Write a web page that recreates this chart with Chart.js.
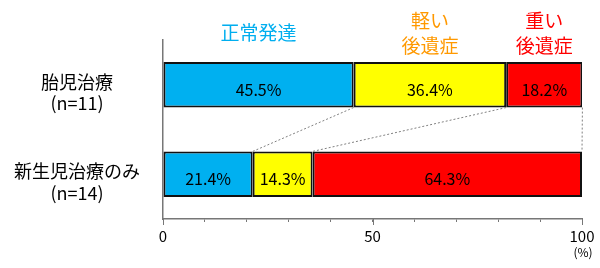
<!DOCTYPE html>
<html>
<head>
<meta charset="utf-8">
<script src="https://cdn.jsdelivr.net/npm/chart.js@4"></script>
<style>
  html, body { margin: 0; padding: 0; background: #fff; }
  #wrap { width: 600px; height: 268px; }
</style>
</head>
<body>
<div id="wrap"><canvas id="chart"></canvas></div>
<script>
const categories = [['胎児治療', '(n=11)'], ['新生児治療のみ', '(n=14)']];
const seriesNames = [['正常発達'], ['軽い', '後遺症'], ['重い', '後遺症']];
const normalDev = [45.5, 21.4];
const mildSeq = [36.4, 14.3];
const severeSeq = [18.2, 64.3];
const xTicksShown = [0, 50, 100];

const barColors = ['#00B0F0', '#FFFF00', '#FF0000'];
const nameColors = ['#00AEEF', '#FF9900', '#FF0000'];
const font = '"Noto Sans CJK JP", "Noto Sans", sans-serif';

// dotted connectors, value labels, series names and the (%) unit
const overlay = {
    id: 'overlay',
    afterDatasetsDraw(chart) {
        const ctx = chart.ctx;
        const metas = chart.data.datasets.map((d, i) => chart.getDatasetMeta(i));

        ctx.save();
        ctx.strokeStyle = '#808080';
        ctx.lineWidth = 1;
        ctx.setLineDash([2, 2]);
        metas.forEach(function(m) {
            const a = m.data[0], b = m.data[1];
            ctx.beginPath();
            ctx.moveTo(a.x, a.y + a.height / 2);
            ctx.lineTo(b.x, b.y - b.height / 2);
            ctx.stroke();
        });
        ctx.restore();

        ctx.save();
        ctx.fillStyle = '#000';
        ctx.font = '16px ' + font;
        ctx.textAlign = 'center';
        ctx.textBaseline = 'middle';
        metas.forEach(function(m, i) {
            m.data.forEach(function(el, j) {
                const v = chart.data.datasets[i].data[j];
                ctx.fillText(v.toFixed(1) + '%', (el.x + el.base) / 2, el.y + 5);
            });
        });

        ctx.font = '19px ' + font;
        metas.forEach(function(m, i) {
            const el = m.data[0];
            const cx = (el.x + el.base) / 2;
            const lines = seriesNames[i];
            const lh = 25;
            const y0 = 33 - (lines.length - 1) * lh / 2;
            ctx.fillStyle = nameColors[i];
            lines.forEach(function(t, k) {
                ctx.fillText(t, cx, y0 + k * lh);
            });
        });
        ctx.restore();
    },
    afterDraw(chart) {
        const ctx = chart.ctx;
        const xs = chart.scales.x;
        ctx.save();
        // longer marks for the labelled ticks
        ctx.strokeStyle = '#777';
        ctx.lineWidth = 1;
        xTicksShown.forEach(function(v) {
            const px = Math.round(xs.getPixelForValue(v)) + 0.5;
            ctx.beginPath();
            ctx.moveTo(px, xs.top);
            ctx.lineTo(px, xs.top + 6);
            ctx.stroke();
        });
        ctx.fillStyle = '#000';
        ctx.font = '12px ' + font;
        ctx.textAlign = 'center';
        ctx.textBaseline = 'middle';
        ctx.fillText('(%)', xs.getPixelForValue(100) + 1, 252);
        ctx.restore();
    }
};

new Chart(document.getElementById('chart'), {
    type: 'bar',
    data: {
        labels: categories,
        datasets: [
            { label: '正常発達', data: normalDev, backgroundColor: barColors[0] },
            { label: '軽い後遺症', data: mildSeq, backgroundColor: barColors[1] },
            { label: '重い後遺症', data: severeSeq, backgroundColor: barColors[2] }
        ].map(function(d) {
            d.borderColor = '#111';
            d.borderWidth = 2;
            d.borderSkipped = false;
            d.barPercentage = 0.51;
            d.categoryPercentage = 1;
            return d;
        })
    },
    options: {
        indexAxis: 'y',
        responsive: true,
        maintainAspectRatio: false,
        animation: false,
        devicePixelRatio: 1,
        layout: { padding: { top: 40, right: 18, left: 0, bottom: 0 } },
        plugins: {
            legend: { display: false },
            tooltip: { enabled: false }
        },
        scales: {
            x: {
                stacked: true,
                min: 0,
                max: 100,
                afterFit: function(scale) { scale.height = 49; },
                border: { display: true, color: '#777', width: 1.5 },
                grid: { drawOnChartArea: false, drawTicks: true, tickLength: 3, color: '#777' },
                ticks: {
                    stepSize: 10,
                    autoSkip: false,
                    maxRotation: 0,
                    padding: 5,
                    color: '#000',
                    font: { family: font, size: 15 },
                    callback: function(v) { return xTicksShown.includes(v) ? String(v) : ''; }
                }
            },
            y: {
                stacked: true,
                afterFit: function(scale) { scale.width = 163; },
                border: { display: true, color: '#777', width: 1.5 },
                grid: { display: false },
                ticks: {
                    crossAlign: 'center',
                    padding: 15,
                    labelOffset: 8,
                    color: '#000',
                    font: { family: font, size: 18, lineHeight: 1.2 }
                }
            }
        }
    },
    plugins: [overlay]
});
</script>
</body>
</html>
